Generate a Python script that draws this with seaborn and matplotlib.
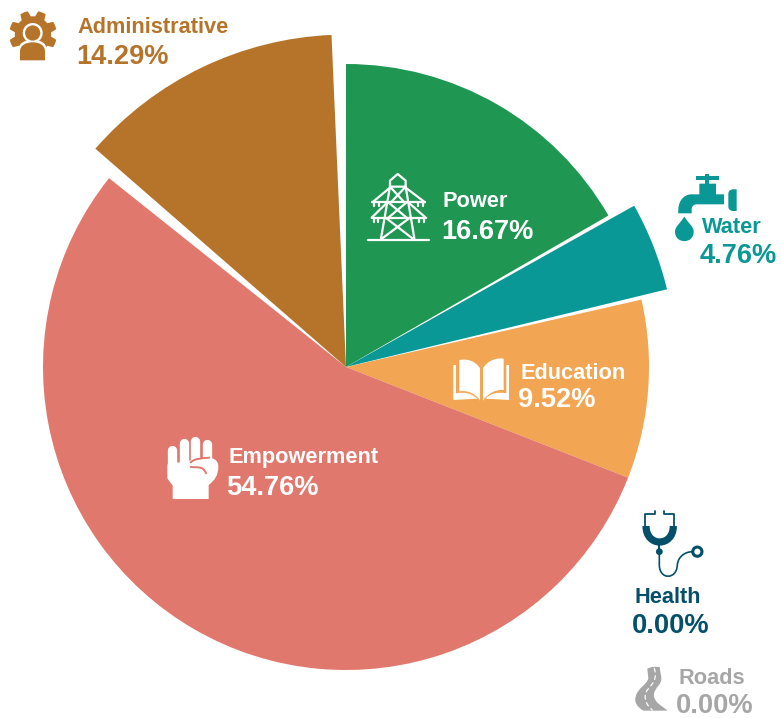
import matplotlib
matplotlib.use("Agg")
import matplotlib.pyplot as plt
import seaborn as sns
import numpy as np
from matplotlib.path import Path
from matplotlib.patches import PathPatch, Circle, Polygon

categories = ["Power", "Water", "Education", "Health", "Roads", "Empowerment", "Administrative"]
shares = [16.67, 4.76, 9.52, 0.0, 0.0, 54.76, 14.29]
radius_scale = [1, 1.09, 1, 1, 1, 1, 1.097]
angle_inset = [0, 0.75, 0, 0, 0, 0, 2.5]
colors = ["#1F9752", "#0A9896", "#F2A553", "#04506B", "#A6A6A6", "#E1786E", "#B5742A"]
value_labels = ["16.67%", "4.76%", "9.52%", "0.00%", "0.00%", "54.76%", "14.29%"]

# label placement in pixels: name x, name baseline, value x, value baseline, text colour
placement = {
    "Power": (442, 207, 441, 239, "white"),
    "Water": (702, 233, 700, 263, colors[1]),
    "Education": (521, 379, 518, 407, "white"),
    "Health": (634, 603, 632, 633, colors[3]),
    "Roads": (679, 684, 676, 713, colors[4]),
    "Empowerment": (229, 463, 226, 495, "white"),
    "Administrative": (77, 33, 76, 64, colors[6]),
}

sns.set_theme(style="white")
plt.rcParams["font.family"] = ["Liberation Sans", "DejaVu Sans"]

fig = plt.figure(figsize=(7.81, 7.18), dpi=100)
ax = fig.add_axes([0, 0, 1, 1])
R = 303
wedges, _ = ax.pie(shares, colors=sns.color_palette(colors), startangle=90,
                   counterclock=False, radius=R, center=(346, 351), frame=True,
                   wedgeprops=dict(linewidth=0))
for wd, scale, inset in zip(wedges, radius_scale, angle_inset):
    if inset:
        th1, th2 = wd.theta1, wd.theta2
        wd.set_radius(R * scale)
        wd.set_theta1(th1 + inset)
        wd.set_theta2(th2 - inset)
ax.set_xlim(0, 781)
ax.set_ylim(0, 718)
ax.set_aspect("equal")
ax.axis("off")

ov = fig.add_axes([0, 0, 1, 1])
ov.set_xlim(0, 781)
ov.set_ylim(718, 0)
ov.axis("off")
ov.patch.set_alpha(0)

for name, val in zip(categories, value_labels):
    nx, ny, vx, vy, c = placement[name]
    ov.text(nx, ny, name, fontsize=15.7, fontweight="bold", color=c, ha="left", va="baseline")
    ov.text(vx, vy, val, fontsize=19.6, fontweight="bold", color=c, ha="left", va="baseline")


def zp(pts, off):
    return [(off[0] + x / 3, off[1] + y / 3) for x, y in pts]


def lines(segs, off, color, lw=1.4, cap="round"):
    for s in segs:
        p = zp(s, off)
        ov.plot([q[0] for q in p], [q[1] for q in p], color=color, lw=lw,
                solid_capstyle=cap, solid_joinstyle="round")


def poly(pts, off, color, z=3):
    ov.add_patch(Polygon(zp(pts, off), closed=True, fc=color, ec="none", zorder=z))


def curve(cmds, off, color, z=3, ec="none", lw=0, fill=True, cap="round"):
    """cmds: list of (code, points) in zoom coordinates."""
    verts, codes = [], []
    for code, pts in cmds:
        p = zp(pts, off)
        if code == "M":
            verts += p; codes += [Path.MOVETO]
        elif code == "L":
            verts += p; codes += [Path.LINETO] * len(p)
        elif code == "Q":
            verts += p; codes += [Path.CURVE3] * 2
        elif code == "C":
            verts += p; codes += [Path.CURVE4] * 3
    ov.add_patch(PathPatch(Path(verts, codes), fc=color if fill else "none",
                           ec=ec, lw=lw, zorder=z, capstyle=cap))


# Administrative: gear with a person
gear_c = (33, 34.5)
angs = np.deg2rad(np.arange(0, 360, 0.5))
tooth = np.clip(3.2 * np.cos(8 * (angs + np.pi / 8)) + 0.5, -1.3, 1.3) / 1.3
gear_r = 21 + 2.8 * tooth
ov.add_patch(Polygon(np.c_[gear_c[0] + gear_r * np.cos(angs), gear_c[1] + gear_r * np.sin(angs)],
                     closed=True, fc=colors[6], ec="none", zorder=3))
ov.add_patch(Circle((32.7, 33), 10, fc="white", ec="none", zorder=4))
ov.add_patch(Circle((32.7, 33), 7.6, fc=colors[6], ec="none", zorder=5))
off0 = (0, 0)
curve([("M", [(54, 186)]), ("L", [(54, 155)]), ("C", [(54, 128), (75, 120), (98, 120)]),
       ("C", [(122, 120), (141, 128), (141, 155)]), ("L", [(141, 186), (54, 186)])],
      off0, "white", z=4)
curve([("M", [(60, 181)]), ("L", [(60, 155)]), ("C", [(60, 135), (78, 127), (98, 127)]),
       ("C", [(118, 127), (135, 135), (135, 155)]), ("L", [(135, 181), (60, 181)])],
      off0, colors[6], z=5)

# Power: transmission tower
off = (355, 165)
w = "white"
lines([
    [(105, 65), (105, 47), (128, 27), (152, 47), (152, 65), (105, 65)],
    [(105, 65), (78, 220)], [(152, 65), (178, 220)], [(38, 224), (222, 224)],
    [(52, 112), (210, 112)], [(52, 112), (105, 68)], [(210, 112), (152, 68)],
    [(50, 158), (212, 158)], [(50, 158), (97, 112)], [(212, 158), (160, 112)],
    [(105, 65), (148, 112)], [(152, 65), (108, 112)],
    [(100, 112), (155, 158)], [(155, 112), (100, 158)],
    [(92, 158), (172, 220)], [(165, 158), (82, 220)],
    [(58, 112), (58, 124)], [(72, 112), (72, 124)], [(190, 112), (190, 124)], [(204, 112), (204, 124)],
    [(56, 158), (56, 170)], [(70, 158), (70, 170)], [(192, 158), (192, 170)], [(206, 158), (206, 170)],
], off, w, lw=1.6)

# Water: tap and drop
off = (620, 165)
c = colors[1]
poly([(227, 32), (297, 32), (297, 44), (227, 44)], off, c)
poly([(255, 27), (268, 27), (268, 60), (255, 60)], off, c)
curve([("M", [(175, 145)]), ("C", [(172, 110), (190, 88), (215, 88)]),
       ("L", [(238, 88), (238, 56), (288, 56), (288, 88), (312, 88), (312, 118), (228, 118)]),
       ("Q", [(216, 120), (215, 132)]), ("L", [(215, 145), (175, 145)])], off, c)
curve([("M", [(350, 73)]), ("L", [(350, 138), (338, 138)]), ("Q", [(325, 136), (325, 125)]),
       ("L", [(325, 86)]), ("Q", [(325, 75), (338, 73)]), ("L", [(350, 73)])], off, c)
curve([("M", [(193, 155)]), ("C", [(180, 175), (165, 185), (165, 200)]),
       ("C", [(165, 238), (221, 238), (221, 200)]), ("C", [(221, 185), (206, 175), (193, 155)])], off, c)

# Education: open book
off = (440, 350)
curve([("M", [(58, 30)]), ("C", [(85, 25), (108, 35), (120, 55)]), ("L", [(120, 152)]),
       ("C", [(108, 132), (85, 120), (58, 124)]), ("L", [(58, 30)])], off, w)
curve([("M", [(129, 55)]), ("C", [(140, 35), (165, 22), (191, 26)]), ("L", [(191, 120)]),
       ("C", [(165, 118), (142, 132), (129, 152)]), ("L", [(129, 55)])], off, w)
curve([("M", [(40, 45)]), ("L", [(48, 45), (48, 130)]), ("C", [(75, 125), (95, 130), (112, 146)]),
       ("L", [(40, 150), (40, 45)])], off, w)
curve([("M", [(207, 45)]), ("L", [(199, 45), (199, 130)]), ("C", [(172, 125), (152, 130), (137, 146)]),
       ("L", [(207, 150), (207, 45)])], off, w)

# Empowerment: raised fist
off = (150, 425)
fin = colors[5]
for fx, ftop, fbot in [(65, 74, 115), (102, 54, 115), (136, 47, 105), (172, 56, 100)]:
    ov.plot([off[0] + fx / 3] * 2, [off[1] + ftop / 3, off[1] + fbot / 3], color=w, lw=6.7,
            solid_capstyle="round", zorder=3)
curve([("M", [(52, 118)]), ("L", [(52, 160), (68, 182), (68, 222), (176, 222), (176, 180)]),
       ("C", [(195, 165), (205, 150), (205, 125)]), ("C", [(205, 105), (190, 98), (170, 98)]),
       ("L", [(52, 118)])], off, w, z=3)
curve([("M", [(122, 112)]), ("C", [(135, 100), (155, 100), (178, 98)])], off, w, z=4, fill=False, ec=fin, lw=1.4)
curve([("M", [(122, 126)]), ("C", [(140, 128), (160, 122), (168, 145)])], off, w, z=4, fill=False, ec=fin, lw=1.4)

# Health: stethoscope
off = (620, 500)
c = colors[3]
curve([("M", [(78, 78)]), ("C", [(78, 142), (160, 142), (160, 78)])], off, c, fill=False, ec=c, lw=5.2, cap="butt")
lines([[(75, 82), (75, 42), (105, 42), (105, 34)], [(162, 82), (162, 42), (133, 42), (133, 34)]], off, c, lw=1.3)
ov.plot([off[0] + 118 / 3] * 2, [off[1] + 128 / 3, off[1] + 155 / 3], color=c, lw=1.5)
ov.add_patch(Circle((off[0] + 118 / 3, off[1] + 155 / 3), 3.4, fc=c, ec="none", zorder=3))
curve([("M", [(118, 155)]), ("L", [(118, 195)]), ("C", [(118, 240), (170, 240), (172, 195)]),
       ("C", [(174, 170), (195, 155), (218, 155)])], off, c, fill=False, ec=c, lw=1.2)
ov.add_patch(Circle((off[0] + 232 / 3, off[1] + 155 / 3), 4.6, fc="white", ec=c, lw=2.2, zorder=3))

# Roads: winding road
off = (620, 500)
c = colors[4]
curve([("M", [(82, 506)]), ("Q", [(100, 497), (120, 502)]), ("C", [(118, 520), (132, 535), (117, 555)]),
       ("C", [(97, 578), (97, 592), (114, 610)]), ("L", [(143, 632), (70, 632)]),
       ("C", [(50, 620), (42, 605), (47, 590)]), ("C", [(52, 565), (80, 555), (85, 535)]),
       ("L", [(82, 506)])], off, c)
curve([("M", [(103, 505)]), ("C", [(112, 535), (100, 550), (82, 570)]), ("C", [(68, 590), (78, 615), (97, 630)])],
      off, c, z=4, fill=False, ec="white", lw=0.9)
ov.patches[-1].set_linestyle((0, (3, 3)))

fig.savefig("out.png", dpi=100)
